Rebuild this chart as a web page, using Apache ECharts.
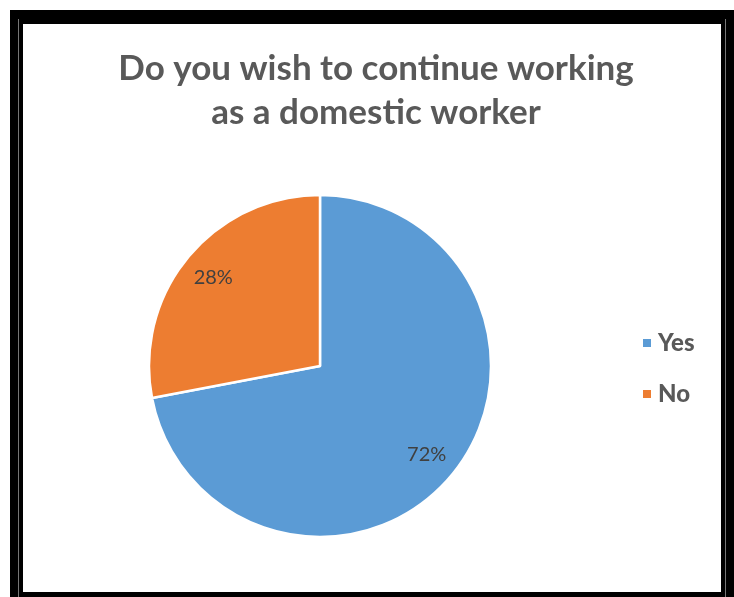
<!DOCTYPE html>
<html>
<head>
<meta charset="utf-8">
<style>
  html, body { margin: 0; padding: 0; background: #ffffff; }
  #chart { width: 734px; height: 597px; }
</style>
<script src="https://cdn.jsdelivr.net/npm/echarts@6/dist/echarts.min.js"></script>
</head>
<body>
<div id="chart"></div>
<script>
// Survey answers
const categories = ['Yes', 'No'];
const shares = [72, 28];
const sliceColors = ['#5B9BD5', '#ED7D31'];
const titleLines = ['Do you wish to continue working', 'as a domestic worker'];

const FONT = 'Lato, "Open Sans", sans-serif';
const pieData = categories.map((name, i) => ({
  name,
  value: shares[i],
  itemStyle: { color: sliceColors[i] }
}));

const chart = echarts.init(document.getElementById('chart'), null, { renderer: 'canvas' });

chart.setOption({
  animation: false,
  backgroundColor: '#ffffff',
  title: {
    text: titleLines.join('\n'),
    left: 371,
    top: 42,
    textAlign: 'center',
    textStyle: {
      fontFamily: FONT,
      fontSize: 35,
      fontWeight: 'bold',
      color: '#595959',
      lineHeight: 44
    }
  },
  legend: {
    orient: 'vertical',
    left: 636,
    top: 326,
    icon: 'rect',
    itemWidth: 10,
    itemHeight: 10,
    itemGap: 27,
    data: categories,
    textStyle: {
      fontFamily: FONT,
      fontSize: 24,
      fontWeight: 900,
      color: '#595959',
      lineHeight: 22,
      padding: [0, 0, 0, 1]
    }
  },
  graphic: [
    // framed border around the chart
    { type: 'rect', z: -10, shape: { x: 10, y: 10, width: 724, height: 587 }, style: { fill: '#000000' } },
    { type: 'rect', z: -9, shape: { x: 23, y: 24, width: 698, height: 568 }, style: { fill: '#ffffff' } },
    { type: 'line', z: -8, shape: { x1: 18.5, y1: 19, x2: 18.5, y2: 597 }, style: { stroke: '#777777', lineWidth: 1 } },
    { type: 'line', z: -8, shape: { x1: 725.5, y1: 19, x2: 725.5, y2: 597 }, style: { stroke: '#777777', lineWidth: 1 } }
  ],
  series: [
    {
      type: 'pie',
      center: [320, 366],
      radius: [0, 171],
      startAngle: 90,
      clockwise: true,
      data: pieData,
      itemStyle: { borderColor: '#ffffff', borderWidth: 2.5 },
      label: { show: false },
      labelLine: { show: false },
      emphasis: { disabled: true },
      silent: true
    },
    {
      // label ring: places percentages at ~80% of the radius
      type: 'pie',
      center: [320, 366],
      radius: [100, 171],
      startAngle: 90,
      clockwise: true,
      data: pieData.map(d => ({ name: d.name, value: d.value })),
      itemStyle: { color: 'rgba(0,0,0,0)', borderWidth: 0 },
      label: {
        show: true,
        position: 'inside',
        formatter: '{d}%',
        fontFamily: FONT,
        fontSize: 20,
        color: '#404040'
      },
      labelLine: { show: false },
      emphasis: { disabled: true },
      silent: true,
      legendHoverLink: false
    }
  ]
});
</script>
</body>
</html>
